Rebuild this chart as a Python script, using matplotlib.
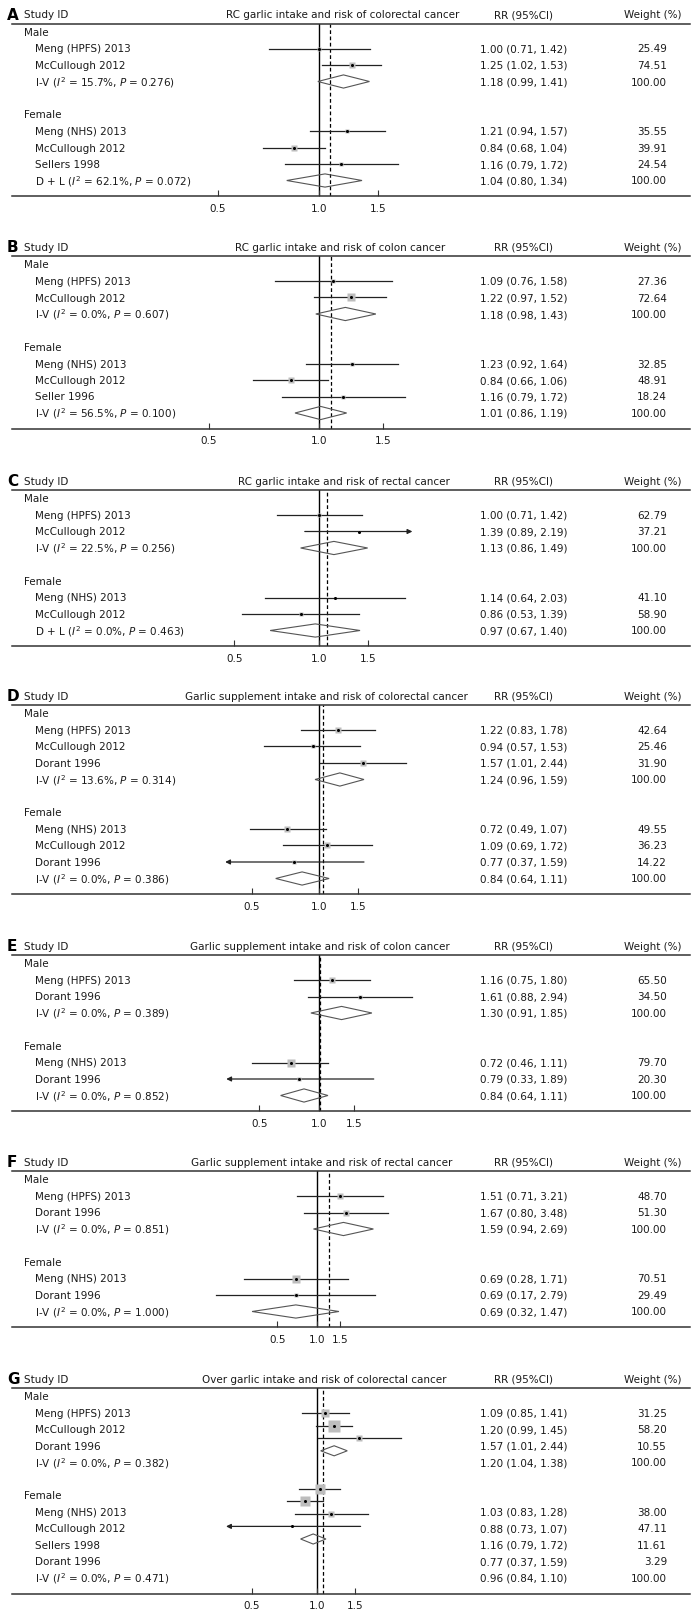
import numpy as np
import matplotlib.pyplot as plt
from matplotlib.patches import Polygon
from matplotlib.ticker import NullLocator

plt.rcParams['font.family'] = 'DejaVu Sans'
plt.rcParams['mathtext.fontset'] = 'dejavusans'


def het(method, i2, p):
    return method + r" ($I^2$ = " + i2 + r"%, $P$ = " + p + ")"


# ---- data (rows: male studies + pooled, then female studies + pooled) ----
letters = ["A", "B", "C", "D", "E", "F", "G"]
titles = ["RC garlic intake and risk of colorectal cancer",
          "RC garlic intake and risk of colon cancer",
          "RC garlic intake and risk of rectal cancer",
          "Garlic supplement intake and risk of colorectal cancer",
          "Garlic supplement intake and risk of colon cancer",
          "Garlic supplement intake and risk of rectal cancer",
          "Over garlic intake and risk of colorectal cancer"]
overall_rr = [1.078, 1.08, 1.07, 1.04, 1.01, 1.23, 1.07]

A_labels = ["Meng (HPFS) 2013", "McCullough 2012", het("I-V", "15.7", "0.276"),
            "Meng (NHS) 2013", "McCullough 2012", "Sellers 1998", het("D + L", "62.1", "0.072")]
A_rr = [1.00, 1.25, 1.18, 1.21, 0.84, 1.16, 1.04]
A_lo = [0.71, 1.02, 0.99, 0.94, 0.68, 0.79, 0.80]
A_hi = [1.42, 1.53, 1.41, 1.57, 1.04, 1.72, 1.34]
A_wt = [25.49, 74.51, 100.00, 35.55, 39.91, 24.54, 100.00]
A_n = [3, 4]

B_labels = ["Meng (HPFS) 2013", "McCullough 2012", het("I-V", "0.0", "0.607"),
            "Meng (NHS) 2013", "McCullough 2012", "Seller 1996", het("I-V", "56.5", "0.100")]
B_rr = [1.09, 1.22, 1.18, 1.23, 0.84, 1.16, 1.01]
B_lo = [0.76, 0.97, 0.98, 0.92, 0.66, 0.79, 0.86]
B_hi = [1.58, 1.52, 1.43, 1.64, 1.06, 1.72, 1.19]
B_wt = [27.36, 72.64, 100.00, 32.85, 48.91, 18.24, 100.00]
B_n = [3, 4]

C_labels = ["Meng (HPFS) 2013", "McCullough 2012", het("I-V", "22.5", "0.256"),
            "Meng (NHS) 2013", "McCullough 2012", het("D + L", "0.0", "0.463")]
C_rr = [1.00, 1.39, 1.13, 1.14, 0.86, 0.97]
C_lo = [0.71, 0.89, 0.86, 0.64, 0.53, 0.67]
C_hi = [1.42, 2.19, 1.49, 2.03, 1.39, 1.40]
C_wt = [62.79, 37.21, 100.00, 41.10, 58.90, 100.00]
C_n = [3, 3]

D_labels = ["Meng (HPFS) 2013", "McCullough 2012", "Dorant 1996", het("I-V", "13.6", "0.314"),
            "Meng (NHS) 2013", "McCullough 2012", "Dorant 1996", het("I-V", "0.0", "0.386")]
D_rr = [1.22, 0.94, 1.57, 1.24, 0.72, 1.09, 0.77, 0.84]
D_lo = [0.83, 0.57, 1.01, 0.96, 0.49, 0.69, 0.37, 0.64]
D_hi = [1.78, 1.53, 2.44, 1.59, 1.07, 1.72, 1.59, 1.11]
D_wt = [42.64, 25.46, 31.90, 100.00, 49.55, 36.23, 14.22, 100.00]
D_n = [4, 4]

E_labels = ["Meng (HPFS) 2013", "Dorant 1996", het("I-V", "0.0", "0.389"),
            "Meng (NHS) 2013", "Dorant 1996", het("I-V", "0.0", "0.852")]
E_rr = [1.16, 1.61, 1.30, 0.72, 0.79, 0.84]
E_lo = [0.75, 0.88, 0.91, 0.46, 0.33, 0.64]
E_hi = [1.80, 2.94, 1.85, 1.11, 1.89, 1.11]
E_wt = [65.50, 34.50, 100.00, 79.70, 20.30, 100.00]
E_n = [3, 3]

F_labels = ["Meng (HPFS) 2013", "Dorant 1996", het("I-V", "0.0", "0.851"),
            "Meng (NHS) 2013", "Dorant 1996", het("I-V", "0.0", "1.000")]
F_rr = [1.51, 1.67, 1.59, 0.69, 0.69, 0.69]
F_lo = [0.71, 0.80, 0.94, 0.28, 0.17, 0.32]
F_hi = [3.21, 3.48, 2.69, 1.71, 2.79, 1.47]
F_wt = [48.70, 51.30, 100.00, 70.51, 29.49, 100.00]
F_n = [3, 3]

G_labels = ["Meng (HPFS) 2013", "McCullough 2012", "Dorant 1996", het("I-V", "0.0", "0.382"),
            "Meng (NHS) 2013", "McCullough 2012", "Sellers 1998", "Dorant 1996",
            het("I-V", "0.0", "0.471")]
G_rr = [1.09, 1.20, 1.57, 1.20, 1.03, 0.88, 1.16, 0.77, 0.96]
G_lo = [0.85, 0.99, 1.01, 1.04, 0.83, 0.73, 0.79, 0.37, 0.84]
G_hi = [1.41, 1.45, 2.44, 1.38, 1.28, 1.07, 1.72, 1.59, 1.10]
G_wt = [31.25, 58.20, 10.55, 100.00, 38.00, 47.11, 11.61, 3.29, 100.00]
G_n = [4, 5]

panels = [(A_labels, A_rr, A_lo, A_hi, A_wt, A_n),
          (B_labels, B_rr, B_lo, B_hi, B_wt, B_n),
          (C_labels, C_rr, C_lo, C_hi, C_wt, C_n),
          (D_labels, D_rr, D_lo, D_hi, D_wt, D_n),
          (E_labels, E_rr, E_lo, E_hi, E_wt, E_n),
          (F_labels, F_rr, F_lo, F_hi, F_wt, F_n),
          (G_labels, G_rr, G_lo, G_hi, G_wt, G_n)]

# ---- layout (pixels) ----
W, H = 700, 1624
ROW = 16.5
L, R = 12, 690
tops = [24.5, 257, 491, 706, 956, 1172, 1389]
x_one = [319.3, 319, 319, 319, 319, 317, 317]      # pixel of RR = 1
px_ln = [146, 159, 122, 97, 86, 57, 94]             # pixels per ln unit
title_cx = [343, 340, 344, 326, 320, 322, 324]
box_c = [0.8, 0.85, 0.4, 0.95, 0.8, 0.85, 1.6]
clips = [(0.2, 4), (0.2, 4), (0.2, 2.15), (0.38, 4), (0.34, 4), (0.15, 6), (0.38, 4)]
mark_step = [ROW, ROW, ROW, ROW, ROW, ROW, 12.6]

FS = 7.5
TXT = '#1a1a1a'
LINE = '#222222'

fig = plt.figure(figsize=(7, 16.24), dpi=100)
bg = fig.add_axes([0, 0, 1, 1])
bg.set_xlim(0, W)
bg.set_ylim(H, 0)
bg.axis('off')

for i, (labels, rr, lo, hi, wt, ns) in enumerate(panels):
    top = tops[i]
    nm, nf = ns
    n_rows = 1 + nm + 1 + 1 + nf
    y0 = top + 8.5
    axis_y = y0 + (n_rows - 1) * ROW + 15.5

    ax = fig.add_axes([L / W, 1 - axis_y / H, (R - L) / W, (axis_y - top) / H])
    ax.patch.set_alpha(0)
    ax.set_xscale('log')
    ax.set_xlim(np.exp((L - x_one[i]) / px_ln[i]), np.exp((R - x_one[i]) / px_ln[i]))
    ax.set_ylim(axis_y, top)
    for side in ['left', 'right']:
        ax.spines[side].set_visible(False)
    for side in ['top', 'bottom']:
        ax.spines[side].set_color('#333333')
        ax.spines[side].set_linewidth(1.1)
    ax.set_yticks([])
    ax.set_xticks([0.5, 1.0, 1.5])
    ax.set_xticklabels(['0.5', '1.0', '1.5'])
    ax.xaxis.set_minor_locator(NullLocator())
    ax.tick_params(axis='x', direction='in', length=4.5, width=0.8, pad=5,
                   labelsize=FS, labelcolor=TXT, color='#333333')

    ax.axvline(1.0, color='black', lw=1.0, zorder=1)
    ax.axvline(overall_rr[i], color='black', lw=0.9, ls=(0, (3, 2)), zorder=1)

    # header
    hy = top - 9
    bg.text(7, hy, letters[i], fontsize=11, fontweight='bold', va='center', color='black')
    bg.text(24, hy, "Study ID", fontsize=FS, va='center', color=TXT)
    bg.text(title_cx[i], hy, titles[i], fontsize=FS, va='center', ha='center', color=TXT)
    bg.text(524, hy, "RR (95%CI)", fontsize=FS, va='center', ha='center', color=TXT)
    bg.text(681, hy, "Weight (%)", fontsize=FS, va='center', ha='right', color=TXT)

    bg.text(24, y0, "Male", fontsize=FS, va='center', color=TXT)
    bg.text(24, y0 + (nm + 2) * ROW, "Female", fontsize=FS, va='center', color=TXT)

    text_rows = [1 + k for k in range(nm)] + [nm + 3 + k for k in range(nf)]
    pooled = [k == nm - 1 for k in range(nm)] + [k == nf - 1 for k in range(nf)]
    clo, chi = clips[i]
    for j, r in enumerate(text_rows):
        ty = y0 + r * ROW
        my = y0 + ROW + (r - 1) * mark_step[i]
        bg.text(35, ty, labels[j], fontsize=FS, va='center', color=TXT)
        bg.text(480, ty, f"{rr[j]:.2f} ({lo[j]:.2f}, {hi[j]:.2f})", fontsize=FS,
                va='center', color=TXT)
        bg.text(667, ty, f"{wt[j]:.2f}", fontsize=FS, va='center', ha='right', color=TXT)

        if pooled[j]:
            h = 0.4 * mark_step[i]
            ax.add_patch(Polygon([(lo[j], my), (rr[j], my - h), (hi[j], my), (rr[j], my + h)],
                                 closed=True, fill=False, edgecolor='#555555', lw=0.8, zorder=3))
            continue

        a, b = max(lo[j], clo), min(hi[j], chi)
        if lo[j] < clo:
            ax.annotate('', xy=(a, my), xytext=(b, my),
                        arrowprops=dict(arrowstyle='-|>', color=LINE, lw=0.9,
                                        mutation_scale=7, shrinkA=0, shrinkB=0))
        elif hi[j] > chi:
            ax.annotate('', xy=(b, my), xytext=(a, my),
                        arrowprops=dict(arrowstyle='-|>', color=LINE, lw=0.9,
                                        mutation_scale=7, shrinkA=0, shrinkB=0))
        else:
            ax.plot([a, b], [my, my], color=LINE, lw=0.9, zorder=2)
        ax.plot(rr[j], my, marker='s', ms=box_c[i] * np.sqrt(wt[j]) * 0.72,
                color='#bdbdbd', mec='none', zorder=3)
        ax.plot(rr[j], my, marker='o', ms=2.2, color='black', mec='none', zorder=4)

fig.savefig('out.png', dpi=100, facecolor='white')
